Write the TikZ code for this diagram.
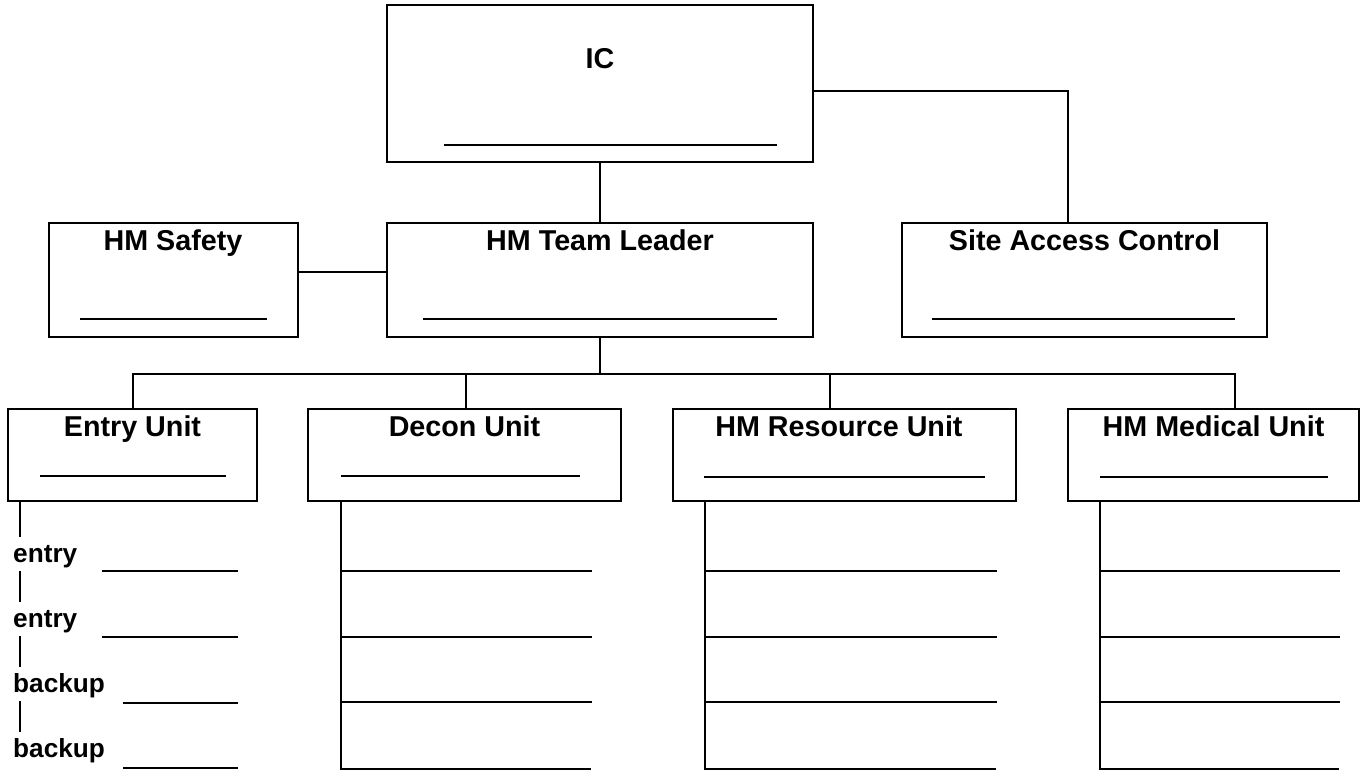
\documentclass[tikz,border=0pt]{standalone}
\usepackage{fontspec}
\setmainfont{Liberation Sans}
\usepackage{tikz}

\begin{document}
\begin{tikzpicture}[x = 1pt,
                    y = -1pt,
                    color = {black}]

  \useasboundingbox (0,0) rectangle (1361,770);


  % STYLES
  \tikzstyle{boxstyle_o} = [draw=black, line width=2.5pt, fill=none, inner sep=0pt]
  \tikzstyle{edgestyle_o} = [draw=black, line width=2.5pt, line join=miter]
  \tikzstyle{titlestyle_o} = [anchor=base, inner sep=0pt, font=\fontsize{28.7}{34}\selectfont\bfseries]
  \tikzstyle{slotstyle_o} = [anchor=base west, inner sep=0pt, text height=24.5pt, text depth=9pt, font=\fontsize{26.2}{31}\selectfont\bfseries]


  % DEF BOXES
  \node[boxstyle_o, minimum width=426pt, minimum height=157pt] (ic_o) at (600, 83.5) {};
  \node[boxstyle_o, minimum width=426pt, minimum height=114pt] (tl_o) at (600, 280) {};
  \node[boxstyle_o, minimum width=249pt, minimum height=114pt] (sf_o) at (173.5, 280) {};
  \node[boxstyle_o, minimum width=365pt, minimum height=114pt] (sa_o) at (1084.5, 280) {};
  \node[boxstyle_o, minimum width=249pt, minimum height=92pt] (eu_o) at (132.5, 455) {};
  \node[boxstyle_o, minimum width=313pt, minimum height=92pt] (du_o) at (464.5, 455) {};
  \node[boxstyle_o, minimum width=343pt, minimum height=92pt] (ru_o) at (844.5, 455) {};
  \node[boxstyle_o, minimum width=291pt, minimum height=92pt] (mu_o) at (1213.5, 455) {};


  % TITLES
  \node[titlestyle_o] (ic_t) at (600, 69) {IC};
  \node[titlestyle_o] (tl_t) at (600, 251) {HM Team Leader};
  \node[titlestyle_o] (sf_t) at (173, 251) {HM Safety};
  \node[titlestyle_o] (sa_t) at (1084.5, 251) {Site Access Control};
  \node[titlestyle_o] (eu_t) at (132.5, 436) {Entry Unit};
  \node[titlestyle_o] (du_t) at (464.5, 436) {Decon Unit};
  \node[titlestyle_o] (ru_t) at (839, 436) {HM Resource Unit};
  \node[titlestyle_o] (mu_t) at (1213.5, 436) {HM Medical Unit};


  % NAME LINES
  \draw[edgestyle_o] (444, 145) -- (777, 145);
  \draw[edgestyle_o] (423, 319) -- (777, 319);
  \draw[edgestyle_o] (80, 319) -- (267, 319);
  \draw[edgestyle_o] (932, 319) -- (1235, 319);
  \draw[edgestyle_o] (40, 476) -- (226, 476);
  \draw[edgestyle_o] (341, 476) -- (580, 476);
  \draw[edgestyle_o] (704, 477) -- (985, 477);
  \draw[edgestyle_o] (1100, 477) -- (1328, 477);


  % CONNECTORS
  \coordinate (bus_o) at (600, 374);
  \draw[edgestyle_o] (ic_o.south) -- (tl_o.north);
  \draw[edgestyle_o] ([yshift=8pt]sf_o.east) -- ([yshift=8pt]tl_o.west);
  \draw[edgestyle_o] ([yshift=-7.5pt]ic_o.east) -| ([xshift=-16.5pt]sa_o.north);
  \draw[edgestyle_o] (tl_o.south) -- (bus_o);
  \draw[edgestyle_o] ([xshift=0.5pt]eu_o.north) |- (bus_o) -| ([xshift=21.5pt]mu_o.north);
  \draw[edgestyle_o] ([xshift=1.5pt]du_o.north) -- ([xshift=1.5pt]du_o.north |- bus_o);
  \draw[edgestyle_o] ([xshift=-14.5pt]ru_o.north) -- ([xshift=-14.5pt]ru_o.north |- bus_o);


  % ENTRY UNIT SLOTS
  \coordinate (spine_o) at (20, 0);
  \node[slotstyle_o] (en1_o) at (13, 562) {entry};
  \node[slotstyle_o] (en2_o) at (13, 627) {entry};
  \node[slotstyle_o] (bk1_o) at (13, 692) {backup};
  \node[slotstyle_o] (bk2_o) at (13, 757) {backup};
  \draw[edgestyle_o] (eu_o.south -| spine_o) -- (spine_o |- en1_o.north);
  \draw[edgestyle_o] (spine_o |- en1_o.south) -- (spine_o |- en2_o.north);
  \draw[edgestyle_o] (spine_o |- en2_o.south) -- (spine_o |- bk1_o.north);
  \draw[edgestyle_o] (spine_o |- bk1_o.south) -- (spine_o |- bk2_o.north);
  \draw[edgestyle_o] (102, 571) -- (238, 571);
  \draw[edgestyle_o] (102, 637) -- (238, 637);
  \draw[edgestyle_o] (123, 703) -- (238, 703);
  \draw[edgestyle_o] (123, 768) -- (238, 768);


  % DECON UNIT SLOTS
  \draw[edgestyle_o] ([xshift=34pt]du_o.south west) -- ++(0, 267) -- ++(250, 0);
  \draw[edgestyle_o] (342, 571) -- (592, 571);
  \draw[edgestyle_o] (342, 637) -- (592, 637);
  \draw[edgestyle_o] (342, 702) -- (592, 702);


  % RESOURCE UNIT SLOTS
  \draw[edgestyle_o] ([xshift=33pt]ru_o.south west) -- ++(0, 267) -- ++(291, 0);
  \draw[edgestyle_o] (706, 571) -- (997, 571);
  \draw[edgestyle_o] (706, 637) -- (997, 637);
  \draw[edgestyle_o] (706, 702) -- (997, 702);


  % MEDICAL UNIT SLOTS
  \draw[edgestyle_o] ([xshift=33pt]mu_o.south west) -- ++(0, 267) -- ++(239, 0);
  \draw[edgestyle_o] (1101, 571) -- (1340, 571);
  \draw[edgestyle_o] (1101, 637) -- (1340, 637);
  \draw[edgestyle_o] (1101, 702) -- (1340, 702);

\end{tikzpicture}
\end{document}
